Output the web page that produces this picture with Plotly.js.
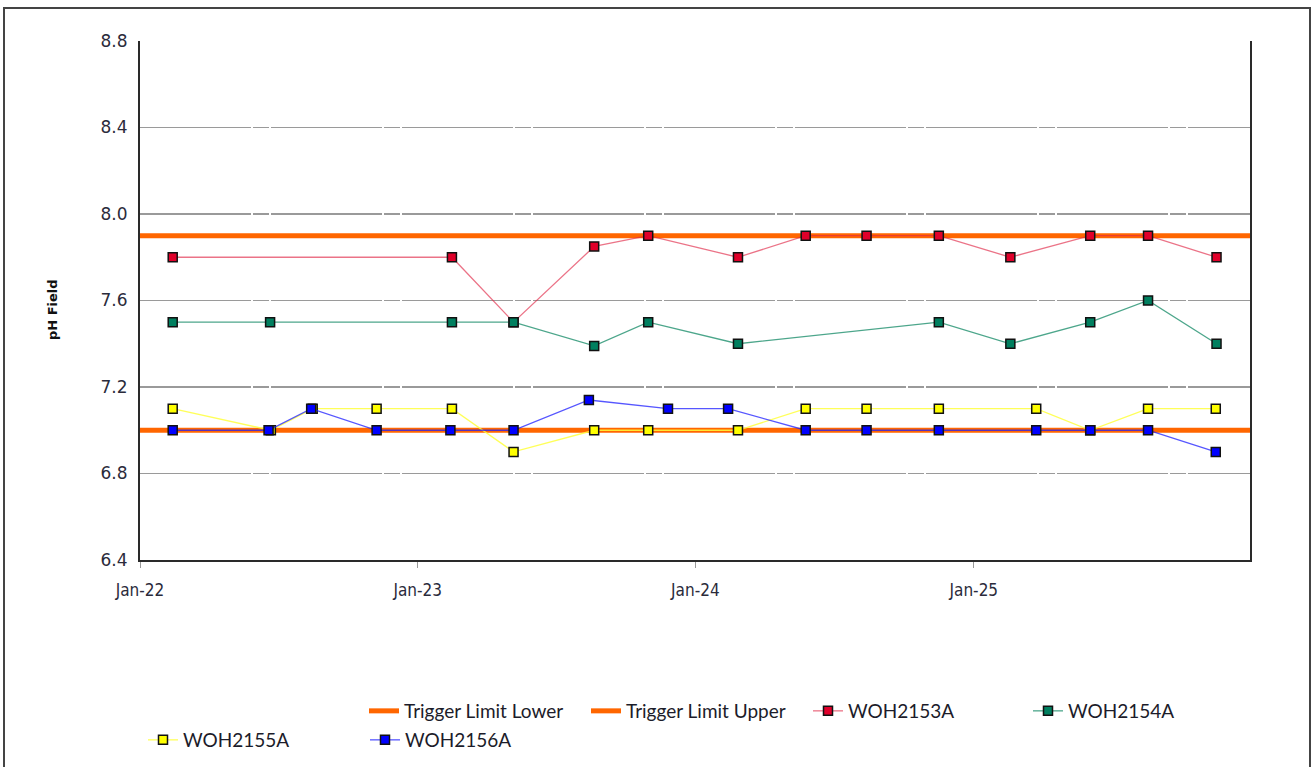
<!DOCTYPE html>
<html>
<head>
<meta charset="utf-8">
<script src="https://cdn.plot.ly/plotly-3.0.1.min.js"></script>
<style>html,body{margin:0;padding:0;background:#fff;}#chart{width:1312px;height:767px;}</style>
</head>
<body>
<div id="chart"></div>
<script>
// ---- data ----
const limitDates = ["2022-01-01", "2025-12-30"];
const triggerLower = [7.0, 7.0];
const triggerUpper = [7.9, 7.9];

const datesA153 = ["2022-02-13","2023-02-15","2023-05-07","2023-08-21","2023-10-31","2024-02-26","2024-05-25","2024-08-13","2024-11-16","2025-02-18","2025-06-03","2025-08-18","2025-11-16"];
const valuesA153 = [7.8, 7.8, 7.5, 7.85, 7.9, 7.8, 7.9, 7.9, 7.9, 7.8, 7.9, 7.9, 7.8];

const datesA154 = ["2022-02-13","2022-06-21","2023-02-15","2023-05-07","2023-08-21","2023-10-31","2024-02-26","2024-11-16","2025-02-18","2025-06-03","2025-08-18","2025-11-16"];
const valuesA154 = [7.5, 7.5, 7.5, 7.5, 7.39, 7.5, 7.4, 7.5, 7.4, 7.5, 7.6, 7.4];

const datesA155 = ["2022-02-13","2022-06-22","2022-08-16","2022-11-08","2023-02-15","2023-05-07","2023-08-21","2023-10-31","2024-02-26","2024-05-25","2024-08-13","2024-11-16","2025-03-24","2025-06-03","2025-08-18","2025-11-15"];
const valuesA155 = [7.1, 7.0, 7.1, 7.1, 7.1, 6.9, 7.0, 7.0, 7.0, 7.1, 7.1, 7.1, 7.1, 7.0, 7.1, 7.1];

const datesA156 = ["2022-02-13","2022-06-19","2022-08-14","2022-11-08","2023-02-13","2023-05-07","2023-08-14","2023-11-26","2024-02-13","2024-05-25","2024-08-13","2024-11-16","2025-03-24","2025-06-03","2025-08-18","2025-11-15"];
const valuesA156 = [7.0, 7.0, 7.1, 7.0, 7.0, 7.0, 7.14, 7.1, 7.1, 7.0, 7.0, 7.0, 7.0, 7.0, 7.0, 6.9];

const xTickVals = ["2022-01-01","2023-01-01","2024-01-01","2025-01-01"];
const xTickText = ["Jan-22","Jan-23","Jan-24","Jan-25"];
const yTickVals = [6.4, 6.8, 7.2, 7.6, 8.0, 8.4, 8.8];
const yTickText = ["6.4","6.8","7.2","7.6","8.0","8.4","8.8"];

// ---- chart ----
const orange = "#FF6600";
function seriesTrace(name, x, y, fill, lineCol, legendId) {
  return {
    type: "scatter", mode: "lines+markers", name: name, x: x, y: y,
    line: {color: lineCol, width: 1.3},
    marker: {symbol: "square", size: 9, color: fill, line: {color: "#111", width: 1.5}},
    legend: legendId
  };
}
const traces = [
  {type:"scatter", mode:"lines", name:"Trigger Limit Lower", x: limitDates, y: triggerLower,
   line:{color: orange, width: 5}, legend: "legend"},
  {type:"scatter", mode:"lines", name:"Trigger Limit Upper", x: limitDates, y: triggerUpper,
   line:{color: orange, width: 5}, legend: "legend2"},
  seriesTrace("WOH2153A", datesA153, valuesA153, "#E0002A", "rgba(225,40,70,0.65)", "legend3"),
  seriesTrace("WOH2154A", datesA154, valuesA154, "#007F5F", "rgba(0,128,90,0.7)", "legend4"),
  seriesTrace("WOH2155A", datesA155, valuesA155, "#FFFF00", "rgba(255,255,60,0.85)", "legend5"),
  seriesTrace("WOH2156A", datesA156, valuesA156, "#0000FF", "rgba(30,30,255,0.75)", "legend6")
];

const L = 140, R = 1250, T = 41, B = 560;
const W = R - L, H = B - T;
const px = v => (v - L) / W;
const py = v => (B - v) / H;
const legFont = {family: "Lato, 'Liberation Sans', sans-serif", size: 19, color: "#1c1c2a"};
function leg(xPix, yPix) {
  return {x: px(xPix), y: py(yPix), xanchor: "left", yanchor: "middle", orientation: "h",
          font: legFont, bgcolor: "rgba(0,0,0,0)", borderwidth: 0};
}

const layout = {
  width: 1312, height: 767,
  margin: {l: L, r: 1312 - R, t: T, b: 767 - B, autoexpand: false},
  paper_bgcolor: "#fff", plot_bgcolor: "#fff",
  showlegend: true,
  legend: leg(364, 711),
  legend2: leg(586, 711),
  legend3: leg(808, 711),
  legend4: leg(1028, 711),
  legend5: leg(143, 740),
  legend6: leg(365, 740),
  xaxis: {
    type: "date", range: ["2022-01-01", "2025-12-30"],
    tickvals: xTickVals, ticktext: xTickText,
    showgrid: false, zeroline: false,
    showline: true, linecolor: "#2a2a2a", linewidth: 2,
    ticks: "outside", ticklen: 6, tickcolor: "#999", tickwidth: 1,
    ticklabelstandoff: 8,
    tickfont: {family: "DejaVu Sans Condensed, DejaVu Sans, sans-serif", size: 17, color: "#2b2b3b"}
  },
  yaxis: {
    range: [6.4, 8.8], tickvals: yTickVals, ticktext: yTickText,
    showgrid: true, gridcolor: "#9a9a9a", gridwidth: 1.2, griddash: "111px,2px,16px,2px",
    zeroline: false, showline: true, linecolor: "#2a2a2a", linewidth: 2, mirror: true,
    ticks: "", ticklabelstandoff: 7,
    tickfont: {family: "DejaVu Sans, sans-serif", size: 17, color: "#2b2b3b"}
  },
  annotations: [{
    text: "<b>pH Field</b>", xref: "paper", yref: "paper", x: px(52), y: py(310),
    xanchor: "center", yanchor: "middle", textangle: -90, showarrow: false,
    font: {family: "DejaVu Sans, sans-serif", size: 13, color: "#111"}
  }],
  shapes: [{
    type: "rect", xref: "paper", yref: "paper",
    x0: px(4), x1: px(1310), y0: py(775), y1: py(8),
    line: {color: "#444", width: 2}, fillcolor: "rgba(0,0,0,0)", layer: "below"
  }]
};

Plotly.newPlot("chart", traces, layout, {displayModeBar: false, staticPlot: true});
</script>
</body>
</html>
